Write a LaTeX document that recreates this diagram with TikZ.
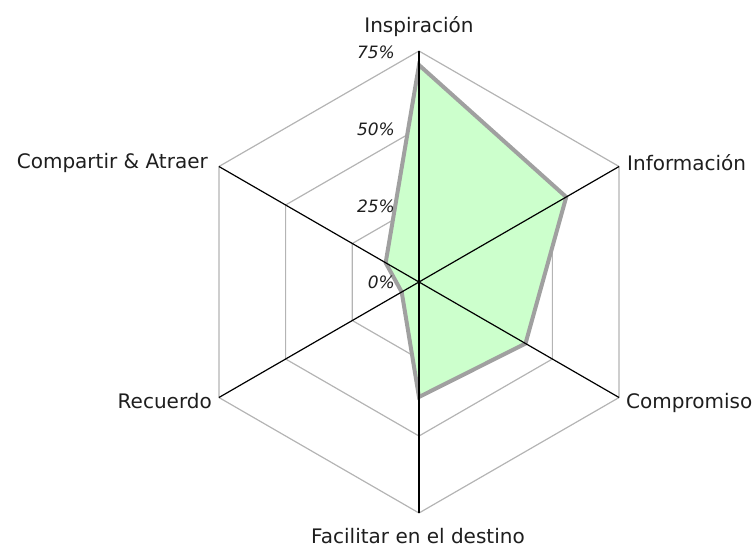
\documentclass[tikz,border=0pt]{standalone}
\usepackage{fontspec}
\setmainfont{DejaVu Sans}
\usetikzlibrary{calc}
\definecolor{gridgray}{HTML}{B4B4B4}
\definecolor{polyfill}{HTML}{CCFFCC}
\definecolor{polyline}{HTML}{A0A0A0}
\definecolor{txt}{HTML}{1E1E1E}
\tikzset{
  ring/.style={draw=gridgray, line width=1.2pt},
  axisline/.style={draw=black, line width=1.2pt},
  datapoly/.style={fill=polyfill, draw=polyline, line width=4pt, line join=miter},
  axlabel/.style={inner sep=0pt, text=txt, font=\fontsize{20}{24}\selectfont},
  pctlabel/.style={inner sep=0pt, anchor=east, text=txt, font=\fontsize{17}{20}\selectfont\itshape},
}
\begin{document}
\begin{tikzpicture}[x=1pt, y=-1pt]
\useasboundingbox (0,0) rectangle (755,547);
\coordinate (C) at (419,282);
% screen angles: -90 up, -30 upper right, 30 lower right, 90 down, 150 lower left, 210 upper left
\foreach \i/\a in {1/-90,2/-30,3/30,4/90,5/150,6/210}{
  \coordinate (o\i) at ($(C)+(\a:231)$);
  \coordinate (m\i) at ($(C)+(\a:154)$);
  \coordinate (n\i) at ($(C)+(\a:77)$);
}
% rings
\draw[ring] (o1)--(o2)--(o3)--(o4)--(o5)--(o6)--cycle;
\draw[ring] (m1)--(m2)--(m3)--(m4)--(m5)--(m6)--cycle;
\draw[ring] (n1)--(n2)--(n3)--(n4)--(n5)--(n6)--cycle;
% data
\coordinate (d1) at ($(C)+(-90:217)$);
\coordinate (d2) at ($(C)+(-30:170)$);
\coordinate (d3) at ($(C)+(30:123)$);
\coordinate (d4) at ($(C)+(90:115)$);
\coordinate (d5) at ($(C)+(150:20)$);
\coordinate (d6) at ($(C)+(210:38.5)$);
\draw[datapoly] (d1)--(d2)--(d3)--(d4)--(d5)--(d6)--cycle;
% axes
\foreach \i in {1,...,6}{ \draw[axisline] (C) -- (o\i); }
% percentage labels
\node[pctlabel] (p75) at (395,52) {75\%};
\node[pctlabel] (p50) at (395,129.5) {50\%};
\node[pctlabel] (p25) at (395,206.5) {25\%};
\node[pctlabel] (p0) at (395,282.5) {0\%};
% axis labels
\node[axlabel, anchor=base] (l1) at (419,32) {Inspiración};
\node[axlabel, anchor=base west] (l2) at (627,170) {Información};
\node[axlabel, anchor=base west] (l3) at (626,408) {Compromiso};
\node[axlabel, anchor=base] (l4) at (418,543) {Facilitar en el destino};
\node[axlabel, anchor=base east] (l5) at (212,408) {Recuerdo};
\node[axlabel, anchor=base east] (l6) at (208,168) {Compartir \& Atraer};
\end{tikzpicture}
\end{document}
